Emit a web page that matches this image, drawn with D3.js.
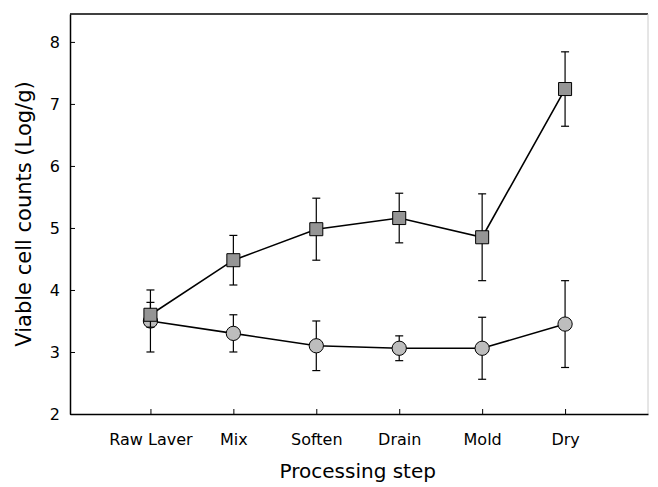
<!DOCTYPE html>
<html>
<head>
<meta charset="utf-8">
<script src="https://cdn.jsdelivr.net/npm/d3@7"></script>
<style>
  body { margin: 0; background: #fff; }
  text { font-family: "DejaVu Sans", Arial, sans-serif; fill: #000; }
</style>
</head>
<body>
<svg width="658" height="487"></svg>
<script>
// data
const steps = ["Raw Laver", "Mix", "Soften", "Drain", "Mold", "Dry"];
const squareMean = [3.6, 4.48, 4.98, 5.16, 4.85, 7.24];
const squareErr  = [0.2, 0.4, 0.5, 0.4, 0.7, 0.6];
const circleMean = [3.5, 3.3, 3.1, 3.06, 3.06, 3.45];
const circleErr  = [0.5, 0.3, 0.4, 0.2, 0.5, 0.7];
const yTicks = [2, 3, 4, 5, 6, 7, 8];

const margin = { top: 14, right: 10, bottom: 73, left: 70 };
const width = 658 - margin.left - margin.right;
const height = 487 - margin.top - margin.bottom;

const svg = d3.select('svg');
const g = svg.append('g')
    .attr('transform', `translate(${margin.left}, ${margin.top})`);

// x: categories at index positions
const x = d3.scaleLinear()
    .domain([-0.97, 6])
    .range([0, width]);

// y
const y = d3.scaleLinear()
    .domain([2, 8.45])
    .range([height, 0]);

// frame (top and right)
g.append('line')
    .attr('x1', 0).attr('x2', width)
    .attr('y1', 0).attr('y2', 0)
    .attr('stroke', '#000').attr('stroke-width', 1.5);
g.append('line')
    .attr('x1', width).attr('x2', width)
    .attr('y1', 0).attr('y2', height)
    .attr('stroke', '#ccc').attr('stroke-width', 1);

// axes, ticks inward
const xAxis = d3.axisBottom(x)
    .tickValues(d3.range(steps.length))
    .tickFormat(i => steps[i])
    .tickSizeInner(-5)
    .tickSizeOuter(0)
    .tickPadding(20);

const yAxis = d3.axisLeft(y)
    .tickValues(yTicks)
    .tickFormat(d3.format('d'))
    .tickSizeInner(-5)
    .tickSizeOuter(0)
    .tickPadding(10);

const gx = g.append('g')
    .attr('transform', `translate(0, ${height})`)
    .call(xAxis);
const gy = g.append('g').call(yAxis);

[gx, gy].forEach(a => {
    a.select('.domain').attr('stroke', '#000').attr('stroke-width', 1.5);
    a.selectAll('.tick line').attr('stroke', '#000');
    a.selectAll('.tick text')
        .style('font-family', '"DejaVu Sans", Arial, sans-serif')
        .style('font-size', '16px').attr('fill', '#000');
});

// axis titles
g.append('text')
    .attr('x', x(2.5))
    .attr('y', height + 64)
    .attr('text-anchor', 'middle')
    .style('font-size', '20px')
    .text('Processing step');

g.append('text')
    .attr('transform', `translate(-39, ${height / 2}) rotate(-90)`)
    .attr('text-anchor', 'middle')
    .style('font-size', '21px')
    .text('Viable cell counts (Log/g)');

// series drawing
function drawSeries(means, errs, shape, fill) {
    const pts = means.map((m, i) => ({ i: i, m: m, e: errs[i] }));

    const line = d3.line()
        .x(d => x(d.i))
        .y(d => y(d.m));

    g.append('path')
        .datum(pts)
        .attr('fill', 'none')
        .attr('stroke', '#000')
        .attr('stroke-width', 1.6)
        .attr('d', line);

    const eb = g.append('g').selectAll('g')
        .data(pts)
        .join('g')
        .attr('stroke', '#000')
        .attr('stroke-width', 1.2);

    eb.append('line')
        .attr('x1', d => x(d.i)).attr('x2', d => x(d.i))
        .attr('y1', d => y(d.m - d.e)).attr('y2', d => y(d.m + d.e));
    eb.append('line')
        .attr('x1', d => x(d.i) - 4).attr('x2', d => x(d.i) + 4)
        .attr('y1', d => y(d.m + d.e)).attr('y2', d => y(d.m + d.e));
    eb.append('line')
        .attr('x1', d => x(d.i) - 4).attr('x2', d => x(d.i) + 4)
        .attr('y1', d => y(d.m - d.e)).attr('y2', d => y(d.m - d.e));

    const sym = d3.symbol().type(shape).size(shape === d3.symbolSquare ? 170 : 160);
    g.append('g').selectAll('path')
        .data(pts)
        .join('path')
        .attr('transform', d => `translate(${x(d.i)}, ${y(d.m)})`)
        .attr('d', sym)
        .attr('fill', fill)
        .attr('stroke', '#000')
        .attr('stroke-width', 1);
}

drawSeries(circleMean, circleErr, d3.symbolCircle, '#bdbdbd');
drawSeries(squareMean, squareErr, d3.symbolSquare, '#959595');
</script>
</body>
</html>
